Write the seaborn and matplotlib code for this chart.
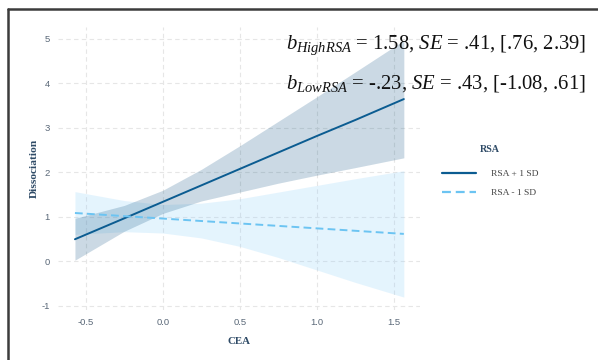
import matplotlib
matplotlib.use("Agg")
import numpy as np
import pandas as pd
import seaborn as sns
import matplotlib.pyplot as plt
from matplotlib.lines import Line2D

# ---- data ----
cea = [-0.57, -0.25, 0.0, 0.25, 0.5, 0.75, 1.0, 1.25, 1.565]
high_fit = [0.49, 0.96, 1.33, 1.70, 2.07, 2.44, 2.81, 3.17, 3.64]
high_upper = [0.96, 1.25, 1.59, 2.06, 2.59, 3.14, 3.69, 4.25, 4.96]
high_lower = [0.02, 0.67, 1.07, 1.35, 1.55, 1.75, 1.93, 2.10, 2.32]
low_fit = [1.08, 1.01, 0.955, 0.90, 0.845, 0.79, 0.735, 0.68, 0.61]
low_upper = [1.56, 1.36, 1.27, 1.30, 1.40, 1.55, 1.70, 1.85, 2.03]
low_lower = [0.60, 0.66, 0.63, 0.52, 0.33, 0.08, -0.20, -0.48, -0.81]
groups = ["RSA + 1 SD", "RSA - 1 SD"]
x_ticks = [-0.5, 0.0, 0.5, 1.0, 1.5]
x_tick_labels = ["-0.5", "0.0", "0.5", "1.0", "1.5"]
y_ticks = [-1, 0, 1, 2, 3, 4, 5]
annot_high = r"$b_{HighRSA}$ = 1.58, $SE$ = .41, [.76, 2.39]"
annot_low = r"$b_{LowRSA}$ = -.23, $SE$ = .43, [-1.08, .61]"

df = pd.DataFrame({
    "CEA": cea + cea,
    "Dissociation": high_fit + low_fit,
    "RSA": [groups[0]] * len(cea) + [groups[1]] * len(cea),
})

sns.set_theme(style="white")
plt.rcParams["axes.unicode_minus"] = False
plt.rcParams["mathtext.fontset"] = "custom"
plt.rcParams["mathtext.rm"] = "Liberation Serif"
plt.rcParams["mathtext.it"] = "Liberation Serif:italic"
plt.rcParams["mathtext.bf"] = "Liberation Serif:bold"

col_high = "#0b5c91"
col_low = "#6cc4f2"
band_high = "#0b4f80"
band_low = "#87cefa"

fig = plt.figure(figsize=(5.98, 3.60), dpi=100)
ax = fig.add_axes([58 / 598, 1 - 310 / 360, (420 - 58) / 598, (310 - 27) / 360])

ax.fill_between(cea, low_lower, low_upper, color=band_low, alpha=0.22, lw=0, zorder=1)
ax.fill_between(cea, high_lower, high_upper, color=band_high, alpha=0.21, lw=0, zorder=2)

sns.lineplot(data=df, x="CEA", y="Dissociation", hue="RSA", style="RSA",
             palette={groups[0]: col_high, groups[1]: col_low},
             dashes={groups[0]: "", groups[1]: (4, 2.2)},
             linewidth=1.4, ax=ax, legend=False, zorder=3)

ax.set_xlim(-0.68, 1.67)
ax.set_ylim(-1.10, 5.26)
ax.set_xticks(x_ticks)
ax.set_xticklabels(x_tick_labels)
ax.set_yticks(y_ticks)
ax.grid(True, color="#e6e6e6", linestyle=(0, (4, 3)), linewidth=0.8)
ax.set_axisbelow(True)
for s in ax.spines.values():
    s.set_visible(False)
ax.tick_params(axis="both", length=0, labelsize=6.8, colors="#5a6878", pad=6)
for lab in ax.get_xticklabels() + ax.get_yticklabels():
    lab.set_fontfamily("Liberation Sans")

ax.set_xlabel("CEA", fontfamily="Liberation Serif", fontweight="bold",
              fontsize=7.8, color="#2e4a66", labelpad=7)
ax.set_ylabel("Dissociation", fontfamily="Liberation Serif", fontweight="bold",
              fontsize=8.2, color="#2e4a66", labelpad=2)

# legend
handles = [Line2D([], [], color=col_high, lw=1.6),
           Line2D([], [], color=col_low, lw=1.6, linestyle=(0, (4, 2.2)))]
leg = ax.legend(handles, groups, title="RSA", loc="upper left",
                bbox_to_anchor=(433 / 598, 1 - 137 / 360), bbox_transform=fig.transFigure,
                frameon=False, handlelength=3.6, handletextpad=1.6, labelspacing=1.1,
                prop={"family": "Liberation Serif", "size": 6.8},
                title_fontproperties={"family": "Liberation Serif", "weight": "bold", "size": 7.2})
leg._legend_box.sep = 11
for t in leg.get_texts():
    t.set_color("#444444")
leg.get_title().set_color("#2e4a66")

# annotations
fig.text(586 / 598, 1 - 45 / 360, annot_high, ha="right", va="center",
         fontfamily="Liberation Serif", fontsize=14.9, color="#111111")
fig.text(586 / 598, 1 - 84 / 360, annot_low, ha="right", va="center",
         fontfamily="Liberation Serif", fontsize=14.9, color="#111111")

# frame (left and top)
fig.add_artist(Line2D([8 / 598, 8 / 598], [0, 1 - 9 / 360], transform=fig.transFigure,
                      color="#3c3c3c", lw=1.8))
fig.add_artist(Line2D([8 / 598, 1], [1 - 9 / 360, 1 - 9 / 360], transform=fig.transFigure,
                      color="#3c3c3c", lw=1.8))

fig.savefig("out.png", dpi=100)
